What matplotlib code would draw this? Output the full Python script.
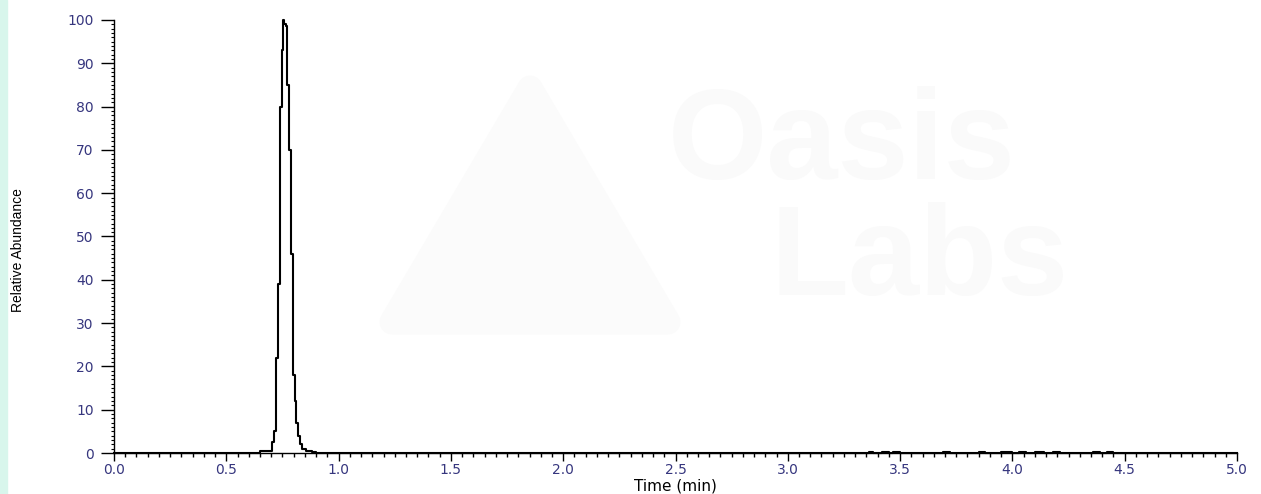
#chromatogram plot - relative abundance vs time
import matplotlib
matplotlib.use("Agg")
import matplotlib.pyplot as plt
from matplotlib.patches import Rectangle, Polygon
from matplotlib.ticker import MultipleLocator

#data (step style, value holds to next time)
time_min = [0.000, 0.648, 0.702, 0.711, 0.722, 0.731, 0.740, 0.748, 0.754, 0.759,
            0.765, 0.771, 0.780, 0.789, 0.797, 0.805, 0.812, 0.820, 0.829, 0.839,
            0.856, 0.880, 0.900,
            3.36, 3.38, 3.42, 3.45, 3.47, 3.50, 3.69, 3.72, 3.85, 3.88, 3.95, 4.00,
            4.03, 4.06, 4.10, 4.14, 4.18, 4.21, 4.36, 4.39, 4.42, 4.45, 5.00]
abundance = [0.0, 0.4, 2.5, 5.0, 22.0, 39.0, 80.0, 93.0, 100.0, 99.0,
             98.5, 85.0, 70.0, 46.0, 18.0, 12.0, 7.0, 4.0, 2.0, 1.0,
             0.5, 0.2, 0.0,
             0.3, 0.0, 0.3, 0.0, 0.3, 0.0, 0.3, 0.0, 0.3, 0.0, 0.3, 0.0,
             0.3, 0.0, 0.3, 0.0, 0.3, 0.0, 0.3, 0.0, 0.3, 0.0, 0.0]

x_ticks = [0.0, 0.5, 1.0, 1.5, 2.0, 2.5, 3.0, 3.5, 4.0, 4.5, 5.0]
y_ticks = [0, 10, 20, 30, 40, 50, 60, 70, 80, 90, 100]

W, H = 1261, 494
fig = plt.figure(figsize=(W / 100, H / 100), dpi=100)
fig.patch.set_facecolor("white")

#mint strip on the left edge
fig.patches.append(Rectangle((0, 0), 7 / W, 1, transform=fig.transFigure,
                             color="#d8f6ec", zorder=0))

#faint watermark
tri = [(392 / W, 1 - 322 / H), (530 / W, 1 - 88 / H), (668 / W, 1 - 322 / H)]
fig.patches.append(Polygon(tri, closed=True, transform=fig.transFigure,
                           facecolor="#fbfbfb", edgecolor="#fbfbfb",
                           linewidth=18, joinstyle="round", zorder=0))
fig.text(668 / W, 1 - 146 / H, "Oasis", fontsize=92, fontweight="bold",
         color="#fafafa", family="Liberation Sans", ha="left", va="center", zorder=0)
fig.text(770 / W, 1 - 262 / H, "Labs", fontsize=92, fontweight="bold",
         color="#fafafa", family="Liberation Sans", ha="left", va="center", zorder=0)

ax = fig.add_axes([114 / W, 1 - 453 / H, (1237 - 114) / W, (453 - 20) / H])
ax.patch.set_alpha(0)
ax.plot(time_min, abundance, drawstyle="steps-post", color="black",
        linewidth=1.5, clip_on=False)

ax.set_xlim(0, 5)
ax.set_ylim(0, 100)
ax.set_xticks(x_ticks)
ax.set_yticks(y_ticks)
ax.set_xticklabels(["%.1f" % v for v in x_ticks])
ax.set_yticklabels([str(v) for v in y_ticks])
ax.xaxis.set_minor_locator(MultipleLocator(0.05))
ax.yaxis.set_minor_locator(MultipleLocator(1))

for s in ["top", "right"]:
    ax.spines[s].set_visible(False)
for s in ["left", "bottom"]:
    ax.spines[s].set_linewidth(1.0)

lab_col = "#36367e"
ax.tick_params(axis="x", which="major", direction="out", length=6, width=1,
               pad=1.5, labelsize=10, labelcolor=lab_col)
ax.tick_params(axis="x", which="minor", direction="out", length=3, width=1)
ax.tick_params(axis="y", which="major", direction="out", length=9.5, width=1,
               pad=5, labelsize=10, labelcolor=lab_col)
ax.tick_params(axis="y", which="minor", direction="out", length=2, width=0.8)
for lab in ax.get_xticklabels() + ax.get_yticklabels():
    lab.set_family("DejaVu Sans")

ax.set_xlabel("Time (min)", fontsize=11, family="DejaVu Sans", labelpad=0.5)
fig.text(18 / W, 1 - 250 / H, "Relative Abundance", rotation=90, fontsize=10,
         family=["Liberation Sans Narrow", "Liberation Sans", "DejaVu Sans"],
         ha="center", va="center")

fig.savefig("out.png", dpi=100)
